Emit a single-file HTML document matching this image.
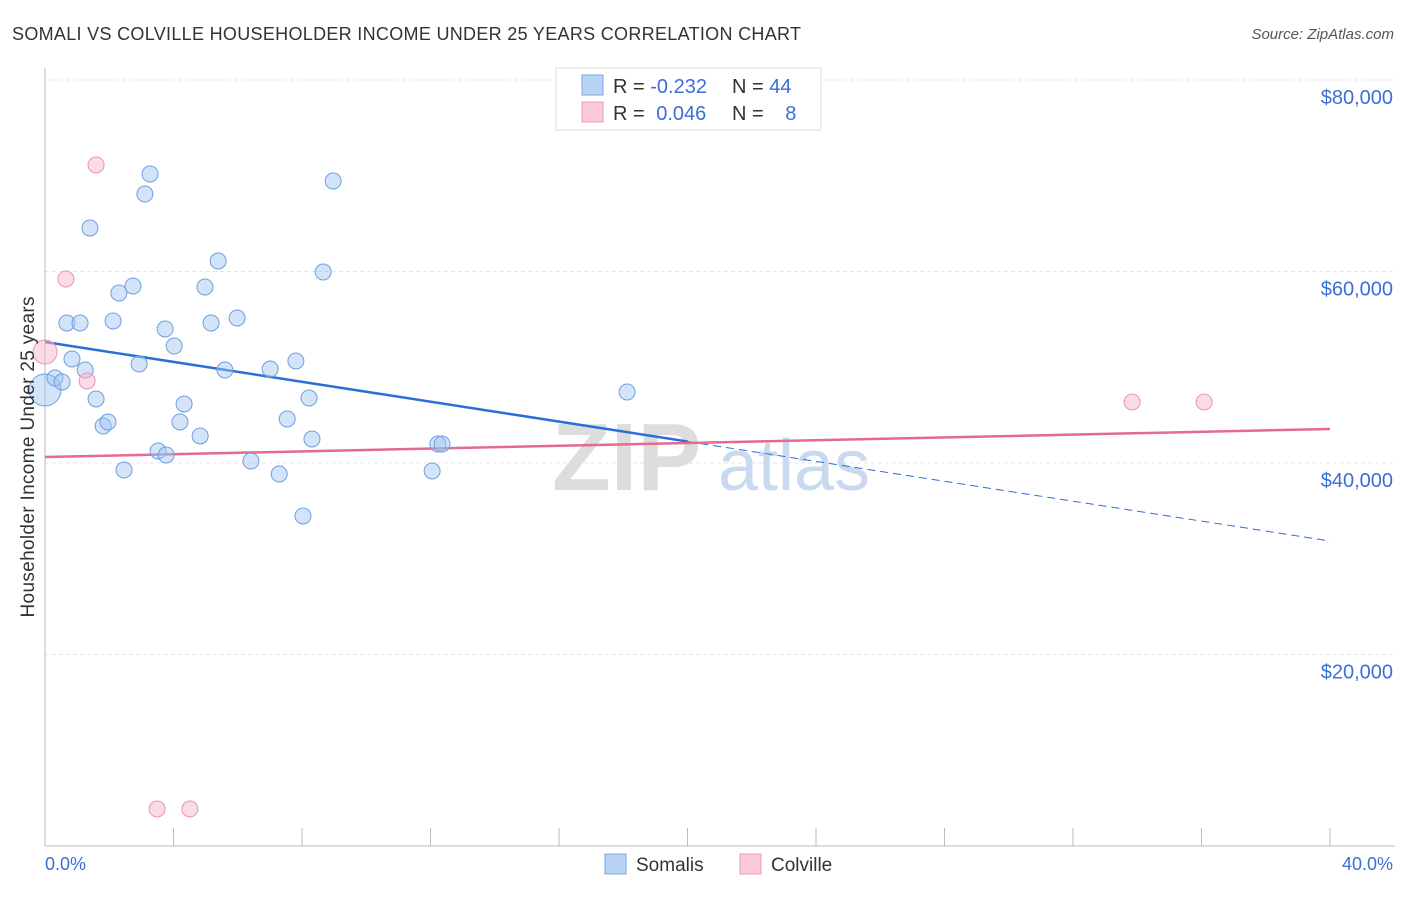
<!DOCTYPE html>
<html><head><meta charset="utf-8"><style>
body{margin:0;background:#fff;font-family:"Liberation Sans",sans-serif;}
svg text{font-family:"Liberation Sans",sans-serif;}
</style></head><body>
<svg id="chart" width="1406" height="892" viewBox="0 0 1406 892" xmlns="http://www.w3.org/2000/svg">
<text x="12" y="40" font-size="18" fill="#333" textLength="789">SOMALI VS COLVILLE HOUSEHOLDER INCOME UNDER 25 YEARS CORRELATION CHART</text>
<text x="1394" y="39" font-size="15" fill="#555" font-style="italic" text-anchor="end">Source: ZipAtlas.com</text>
<g id="grid"></g>
<g>
<text x="552" y="490" font-size="96" font-family="Liberation Serif" fill="#ddd" font-weight="bold">ZIP</text>
<text x="718" y="490" font-size="72" fill="#c9daf0">atlas</text>
</g>
<line x1="45" y1="68" x2="45" y2="846" stroke="#bbb"/>
<line x1="45" y1="846" x2="1395" y2="846" stroke="#bbb"/>
<g id="ticks"></g>
<g id="lines"></g>
<g id="points"></g>
<text x="34" y="457" font-size="19" fill="#333" text-anchor="middle" textLength="321" transform="rotate(-90 34 457)">Householder Income Under 25 years</text>
<text x="45" y="870" font-size="18" fill="#3a6fd8">0.0%</text>
<text x="1393" y="870" font-size="18" fill="#3a6fd8" text-anchor="end">40.0%</text>
<g>
<rect x="556" y="68" width="265" height="62" fill="#fff" stroke="#ddd"/>
<rect x="582" y="75" width="21" height="20" fill="#b9d3f5" stroke="#7aa6e6"/>
<rect x="582" y="102" width="21" height="20" fill="#fbc9d8" stroke="#ee9ab5"/>
<text x="613" y="93" font-size="20" fill="#333">R = <tspan fill="#3a6fd8">-0.232</tspan></text>
<text x="732" y="93" font-size="20" fill="#333">N = <tspan fill="#3a6fd8">44</tspan></text>
<text x="613" y="120" font-size="20" fill="#333">R = <tspan fill="#3a6fd8" dx="6">0.046</tspan></text>
<text x="732" y="120" font-size="20" fill="#333">N = <tspan fill="#3a6fd8" dx="16">8</tspan></text>
</g>
<g>
<rect x="605" y="854" width="21" height="20" fill="#b9d3f5" stroke="#7aa6e6"/>
<text x="636" y="871" font-size="19" fill="#333">Somalis</text>
<rect x="740" y="854" width="21" height="20" fill="#fbc9d8" stroke="#ee9ab5"/>
<text x="771" y="871" font-size="19" fill="#333">Colville</text>
</g>
</svg>
<script>
const yTicks=[20000,40000,60000,80000];
const yTickLabels=["$20,000","$40,000","$60,000","$80,000"];
const xTicks=[0,4,8,12,16,20,24,28,32,36,40];
const somaliX=[0.0,0.31,0.53,0.68,1.09,0.84,1.25,1.40,1.59,1.81,1.96,2.12,2.30,2.46,2.74,2.93,3.11,3.27,3.52,3.74,3.77,4.02,4.20,4.33,4.83,4.98,5.17,5.39,5.60,5.98,6.41,7.01,7.29,7.54,7.81,8.03,8.22,8.31,8.66,8.97,12.05,12.23,12.36,18.12];
const somaliY=[47624,48877,48460,54621,54621,50862,49713,64543,46684,43864,44282,54830,57755,39269,58486,50339,68094,70183,41253,53995,40836,52219,44282,46162,42820,58381,54621,61097,49713,55144,40209,49817,38851,44595,50653,34465,46789,42507,59948,69452,39164,41984,41984,47415];
const colvilleX=[0,0.65,1.31,1.59,3.49,4.51,33.84,36.08];
const colvilleY=[51593,59217,48564,71123,3864,3864,46371,46371];
const somaliTrend=[52637,31854];
const somaliSolidEnd=20;
const colvilleTrend=[40627,43551];
const NS="http://www.w3.org/2000/svg";
const X=p=>45+p/40*1285;
const Y=v=>846-v*0.009575;
function mk(tag,attrs,parent){const e=document.createElementNS(NS,tag);for(const k in attrs)e.setAttribute(k,attrs[k]);document.getElementById(parent).appendChild(e);return e;}
yTicks.forEach((v,i)=>{
 const l=mk('line',{x1:45,x2:1395,y1:Y(v),y2:Y(v),stroke:'#e4e4e4','stroke-dasharray':'4 3'},'grid');
 
 
 const t=mk('text',{x:1393,y:Y(v)+24,'font-size':20,fill:'#3a6fd8','text-anchor':'end'},'grid');
 t.textContent=yTickLabels[i];
 
 
});
xTicks.forEach(p=>{
 const l=mk('line',{x1:X(p),x2:X(p),y1:828,y2:846,stroke:'#bbb'},'ticks');
 
 
});
const sAt=p=>somaliTrend[0]+(somaliTrend[1]-somaliTrend[0])*p/40;
let l1=mk('line',{x1:X(0),y1:Y(sAt(0)),x2:X(somaliSolidEnd),y2:Y(sAt(somaliSolidEnd)),stroke:'#2a6fd6','stroke-width':2.5},'lines');


let l2=mk('line',{x1:X(somaliSolidEnd),y1:Y(sAt(somaliSolidEnd)),x2:X(40),y2:Y(sAt(40)),stroke:'#2a6fd6','stroke-width':1,'stroke-dasharray':'8 5'},'lines');


let l3=mk('line',{x1:X(0),y1:Y(colvilleTrend[0]),x2:X(40),y2:Y(colvilleTrend[1]),stroke:'#e46a93','stroke-width':2.5},'lines');


somaliX.forEach((p,i)=>{
 const c=mk('circle',{cx:X(p),cy:Y(somaliY[i]),r:i===0?16:8,fill:'rgba(160,195,240,0.45)',stroke:'#6f9fe0','stroke-width':1},'points');
 
 
});
colvilleX.forEach((p,i)=>{
 const c=mk('circle',{cx:X(p),cy:Y(colvilleY[i]),r:i===0?12:8,fill:'rgba(248,185,205,0.5)',stroke:'#ec93b0','stroke-width':1},'points');
 
 
});
</script>
</body></html>
